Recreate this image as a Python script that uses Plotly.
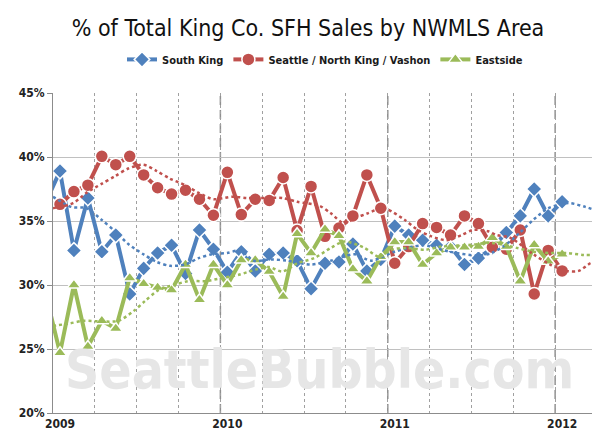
import plotly.graph_objects as go

# ---------------- data ----------------
months = ["2008-12"] + [f"{y}-{m:02d}" for y in (2009, 2010, 2011) for m in range(1, 13)] + ["2012-01"]

south_king = [36.5,
              38.9, 32.7, 36.8, 32.6, 33.9, 29.3, 31.3, 32.5, 33.1, 30.9, 34.3, 32.8,
              31.0, 32.6, 31.1, 32.4, 32.5, 31.9, 29.7, 31.7, 31.8, 33.2, 31.1, 32.0,
              34.6, 33.9, 33.5, 33.1, 33.0, 31.6, 32.1, 32.9, 34.1, 35.4, 37.5, 35.4,
              36.5]
seattle = [36.4,
           36.3, 37.3, 37.8, 40.05, 39.4, 40.05, 38.6, 37.6, 37.1, 37.4, 36.7, 35.45,
           38.8, 35.5, 36.7, 36.6, 38.4, 34.25, 37.7, 33.8, 34.45, 35.4, 38.6, 36.0,
           31.7, 33.0, 34.8, 34.5, 33.9, 35.4, 34.8, 32.95, 32.8, 34.3, 29.3, 32.7,
           31.1]
eastside = [29.2,
            24.7, 30.0, 25.2, 27.2, 26.6, 30.55, 30.1, 29.8, 29.6, 31.6, 28.85, 31.6,
            30.0, 31.95, 31.95, 31.05, 29.1, 34.0, 32.5, 34.35, 33.85, 31.25, 30.3, 32.2,
            33.35, 33.35, 31.6, 32.5, 32.95, 32.95, 33.0, 33.7, 33.0, 30.3, 33.15, 31.85,
            32.4]

# smoothed trend (dotted) lines: decimal year -> percent
sk_trend_x = [2009.00, 2009.11, 2009.20, 2009.29, 2009.37, 2009.45, 2009.54, 2009.62, 2009.70,
              2009.79, 2009.87, 2009.95, 2010.04, 2010.12, 2010.20, 2010.30, 2010.40, 2010.54,
              2010.66, 2010.80, 2010.90, 2011.04, 2011.21, 2011.37, 2011.54, 2011.62, 2011.70,
              2011.79, 2011.87, 2011.96, 2012.08, 2012.18, 2012.25]
sk_trend_y = [36.9, 36.1, 36.0, 35.1, 34.2, 33.2, 32.4, 31.8, 31.5,
              31.6, 32.1, 32.4, 32.5, 32.7, 31.9, 32.0, 31.9, 31.6,
              31.9, 32.4, 31.9, 32.6, 33.1, 32.6, 32.3, 32.5, 33.1,
              34.1, 35.1, 36.0, 36.4, 36.1, 35.8]

se_trend_x = [2009.00, 2009.12, 2009.20, 2009.29, 2009.37, 2009.45, 2009.54, 2009.62, 2009.70,
              2009.79, 2009.87, 2009.96, 2010.07, 2010.16, 2010.27, 2010.37, 2010.46, 2010.59,
              2010.66, 2010.74, 2010.80, 2010.88, 2010.96, 2011.00, 2011.10, 2011.18, 2011.26,
              2011.35, 2011.44, 2011.51, 2011.60, 2011.65, 2011.73, 2011.87, 2011.97, 2012.07,
              2012.14, 2012.21, 2012.25]
se_trend_y = [36.0, 36.4, 37.2, 37.9, 38.5, 39.1, 39.4, 38.9, 38.3,
              37.8, 37.2, 36.7, 36.9, 36.8, 36.8, 36.8, 36.5, 36.2,
              35.6, 34.8, 35.2, 35.6, 36.0, 35.9, 35.1, 34.3, 33.8,
              33.5, 33.9, 34.3, 34.2, 33.9, 33.7, 32.4, 31.6, 31.1,
              31.1, 31.7, 31.9]

ea_trend_x = [2009.00, 2009.10, 2009.18, 2009.29, 2009.39, 2009.48, 2009.55, 2009.63, 2009.72,
              2009.81, 2009.91, 2010.01, 2010.11, 2010.21, 2010.29, 2010.37, 2010.46, 2010.56,
              2010.66, 2010.74, 2010.86, 2010.95, 2011.02, 2011.11, 2011.22, 2011.32, 2011.51,
              2011.60, 2011.67, 2011.77, 2011.87, 2011.97, 2012.07, 2012.17, 2012.25]
ea_trend_y = [26.8, 27.0, 27.2, 27.15, 27.2, 27.95, 28.75, 29.6, 30.0,
              30.3, 30.3, 30.55, 30.8, 31.2, 31.4, 31.05, 31.7, 32.1,
              32.9, 33.4, 32.9, 32.2, 32.75, 32.9, 32.75, 33.0, 33.15,
              33.3, 33.2, 32.9, 32.6, 32.5, 32.5, 32.35, 32.35]

year_labels = ["2009", "2010", "2011", "2012"]
y_ticks = [20, 25, 30, 35, 40, 45]

# ------------- helpers --------------
def month_pos(s):
    y, m = s.split("-")
    return int(y) + (int(m) - 0.5) / 12.0

x_main = [month_pos(m) for m in months]

BLUE = "#4F81BD"
RED = "#C0504D"
GREEN = "#9BBB59"
FONT = "DejaVu Sans Condensed, Roboto, sans-serif"

fig = go.Figure()

series = [
    ("South King", south_king, BLUE, "diamond", 12),
    ("Seattle / North King / Vashon", seattle, RED, "circle", 13),
    ("Eastside", eastside, GREEN, "triangle-up", 12),
]
for name, vals, col, sym, sz in series:
    fig.add_trace(go.Scatter(
        x=x_main, y=vals, name=name, mode="lines+markers",
        line=dict(color=col, width=4),
        marker=dict(symbol=sym, size=sz, color=col, line=dict(color="white", width=1.5)),
    ))

for tx, ty, col in [(sk_trend_x, sk_trend_y, BLUE), (se_trend_x, se_trend_y, RED),
                    (ea_trend_x, ea_trend_y, GREEN)]:
    fig.add_trace(go.Scatter(
        x=tx, y=ty, mode="lines", showlegend=False, hoverinfo="skip",
        line=dict(color=col, width=2.5, dash="dot", shape="spline", smoothing=0.8),
    ))

for yr in (2010, 2011, 2012):
    fig.add_vline(x=yr, line=dict(color="#8f8f8f", width=1.5, dash="9px,5px"), layer="below")
fig.add_vline(x=2012.25, line=dict(color="#a0a0a0", width=1, dash="dot"), layer="below")

fig.add_annotation(text="SeattleBubble.com", xref="paper", yref="paper", x=0.49, y=0.135,
                   xanchor="center", yanchor="middle", showarrow=False,
                   font=dict(family=FONT, size=53, color="#e6e6e6", weight="bold"))

fig.update_layout(
    width=600, height=436,
    margin=dict(l=41, r=11, t=85, b=31),
    paper_bgcolor="white", plot_bgcolor="white",
    title=dict(text="% of Total King Co. SFH Sales by NWMLS Area", x=0.5, xanchor="center",
               y=0.955, yanchor="middle",
               font=dict(family=FONT, size=23, color="#111111")),
    legend=dict(orientation="h", x=0.5, xanchor="center", y=1.105, yanchor="middle",
                font=dict(family=FONT, size=11, color="#1a1a1a", weight="bold"),
                bgcolor="rgba(0,0,0,0)", itemwidth=30),
    showlegend=True,
)

fig.update_xaxes(
    range=[2009, 2012.25],
    tickmode="array",
    tickvals=[int(y) + 0.5 / 12 for y in year_labels],
    ticktext=year_labels,
    showgrid=False, zeroline=False,
    showline=True, linecolor="#8c8c8c", linewidth=1,
    ticks="",
    tickfont=dict(family=FONT, size=12, color="#222222", weight="bold"),
    minor=dict(tickmode="linear", tick0=2009, dtick=0.25, showgrid=True,
               gridcolor="#a0a0a0", griddash="dot", gridwidth=1, ticks=""),
)
fig.update_yaxes(
    range=[20, 45],
    tickmode="array", tickvals=y_ticks, ticktext=[f"{v}%" for v in y_ticks],
    showgrid=True, gridcolor="#c0c0c0", gridwidth=1, zeroline=False,
    showline=True, linecolor="#8c8c8c", linewidth=1,
    ticks="outside", ticklen=5, tickcolor="#8c8c8c",
    tickfont=dict(family=FONT, size=12, color="#222222", weight="bold"),
)

fig.write_html("out.html")
